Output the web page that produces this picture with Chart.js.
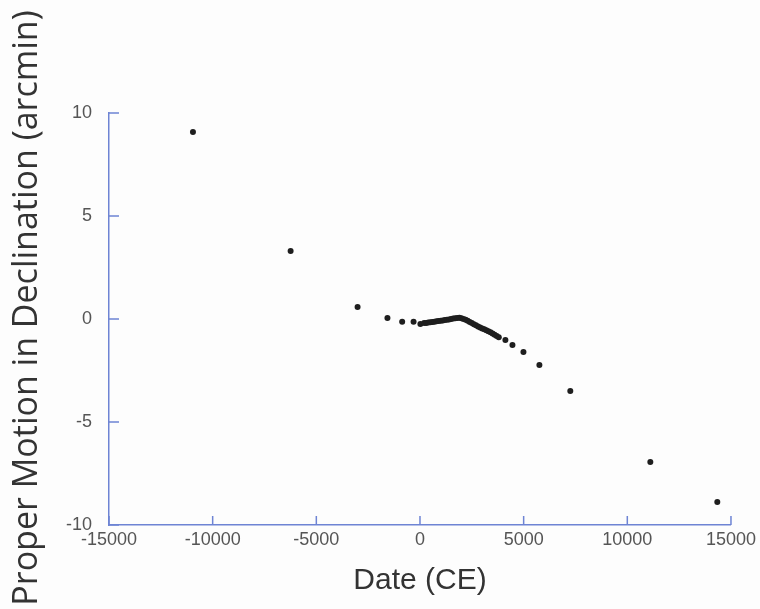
<!DOCTYPE html>
<html>
<head>
<meta charset="utf-8">
<script src="https://cdn.jsdelivr.net/npm/chart.js@4.4.1/dist/chart.umd.min.js"></script>
<style>
  html, body { margin: 0; padding: 0; background: #fdfdfd; }
  #wrap { width: 760px; height: 609px; }
</style>
</head>
<body>
<div id="wrap"><canvas id="pmChart" width="760" height="609"></canvas></div>
<script>
// date (CE) and proper motion in declination (arcmin)
const years = [
  -10950, -6240, -3010, -1570, -860, -310, 20,
  200, 300, 400, 500, 600, 700, 800, 900, 1000, 1100, 1200, 1300, 1400, 1500,
  1600, 1700, 1800, 1900, 2000, 2100, 2200, 2300, 2400, 2500, 2600, 2700,
  2800, 2900, 3000, 3100, 3200, 3300, 3400, 3500, 3600, 3700, 3800,
  4120, 4460, 4990, 5760, 7250, 11110, 14340
];
const decl = [
  9.08, 3.3, 0.58, 0.05, -0.13, -0.13, -0.24,
  -0.2, -0.19, -0.17, -0.16, -0.14, -0.13, -0.11, -0.1, -0.08, -0.07, -0.05, -0.04, -0.02, 0.0,
  0.02, 0.04, 0.05, 0.06, 0.04, 0.0, -0.04, -0.09, -0.14, -0.2, -0.25, -0.3,
  -0.36, -0.41, -0.46, -0.5, -0.55, -0.6, -0.64, -0.7, -0.76, -0.82, -0.88,
  -1.02, -1.26, -1.6, -2.23, -3.5, -6.94, -8.88
];
const xTicks = [-15000, -10000, -5000, 0, 5000, 10000, 15000];
const yTicks = [-10, -5, 0, 5, 10];

const axisBlue = '#6e84d4';
const tickGray = '#555555';

// short inward tick marks, like the original
const inwardTicks = {
  id: 'inwardTicks',
  afterDraw(chart) {
    const ctx = chart.ctx;
    const xs = chart.scales.x, ys = chart.scales.y;
    ctx.save();
    ctx.strokeStyle = axisBlue;
    ctx.lineWidth = 1.5;
    ctx.beginPath();
    xTicks.forEach(v => {
      const px = xs.getPixelForValue(v);
      ctx.moveTo(px, ys.bottom);
      ctx.lineTo(px, ys.bottom - 9);
    });
    yTicks.forEach(v => {
      const py = ys.getPixelForValue(v);
      ctx.moveTo(xs.left, py);
      ctx.lineTo(xs.left + 10, py);
    });
    ctx.stroke();

    // y axis title
    ctx.translate(37, 308);
    ctx.rotate(-Math.PI / 2);
    ctx.fillStyle = '#333333';
    ctx.font = '34px "Open Sans"';
    ctx.textAlign = 'center';
    ctx.textBaseline = 'alphabetic';
    ctx.fillText('Proper Motion in Declination (arcmin)', 0, 0);
    ctx.restore();
  }
};

const ctx = document.getElementById('pmChart').getContext('2d');
new Chart(ctx, {
  type: 'scatter',
  data: {
    datasets: [{
      data: years.map((y, i) => ({ x: y, y: decl[i] })),
      backgroundColor: '#1e1e1e',
      borderColor: '#1e1e1e',
      pointRadius: 3,
      pointBorderWidth: 0
    }]
  },
  options: {
    responsive: false,
    animation: false,
    layout: { padding: { left: 0, top: 113, right: 29, bottom: 0 } },
    plugins: { legend: { display: false }, tooltip: { enabled: false } },
    scales: {
      x: {
        type: 'linear',
        min: -15000,
        max: 15000,
        afterBuildTicks: s => { s.ticks = xTicks.map(v => ({ value: v })); },
        afterFit: s => { s.height = 84; },
        grid: { display: false, drawTicks: false },
        border: { display: true, color: axisBlue, width: 1.5 },
        ticks: {
          color: tickGray,
          font: { family: '"Liberation Sans", Arial', size: 18 },
          padding: 4,
          maxRotation: 0,
          autoSkip: false,
          callback: v => String(v)
        },
        title: {
          display: true,
          text: 'Date (CE)',
          color: '#333333',
          font: { family: '"Liberation Sans", Arial', size: 30 },
          padding: { top: 0, bottom: 10 }
        }
      },
      y: {
        type: 'linear',
        min: -10,
        max: 10,
        afterBuildTicks: s => { s.ticks = yTicks.map(v => ({ value: v })); },
        afterFit: s => { s.width = 109; },
        grid: { display: false, drawTicks: false },
        border: { display: true, color: axisBlue, width: 1.5 },
        ticks: {
          color: tickGray,
          font: { family: '"Liberation Sans", Arial', size: 18 },
          padding: 17,
          callback: v => String(v)
        }
      }
    }
  },
  plugins: [inwardTicks]
});
</script>
</body>
</html>
